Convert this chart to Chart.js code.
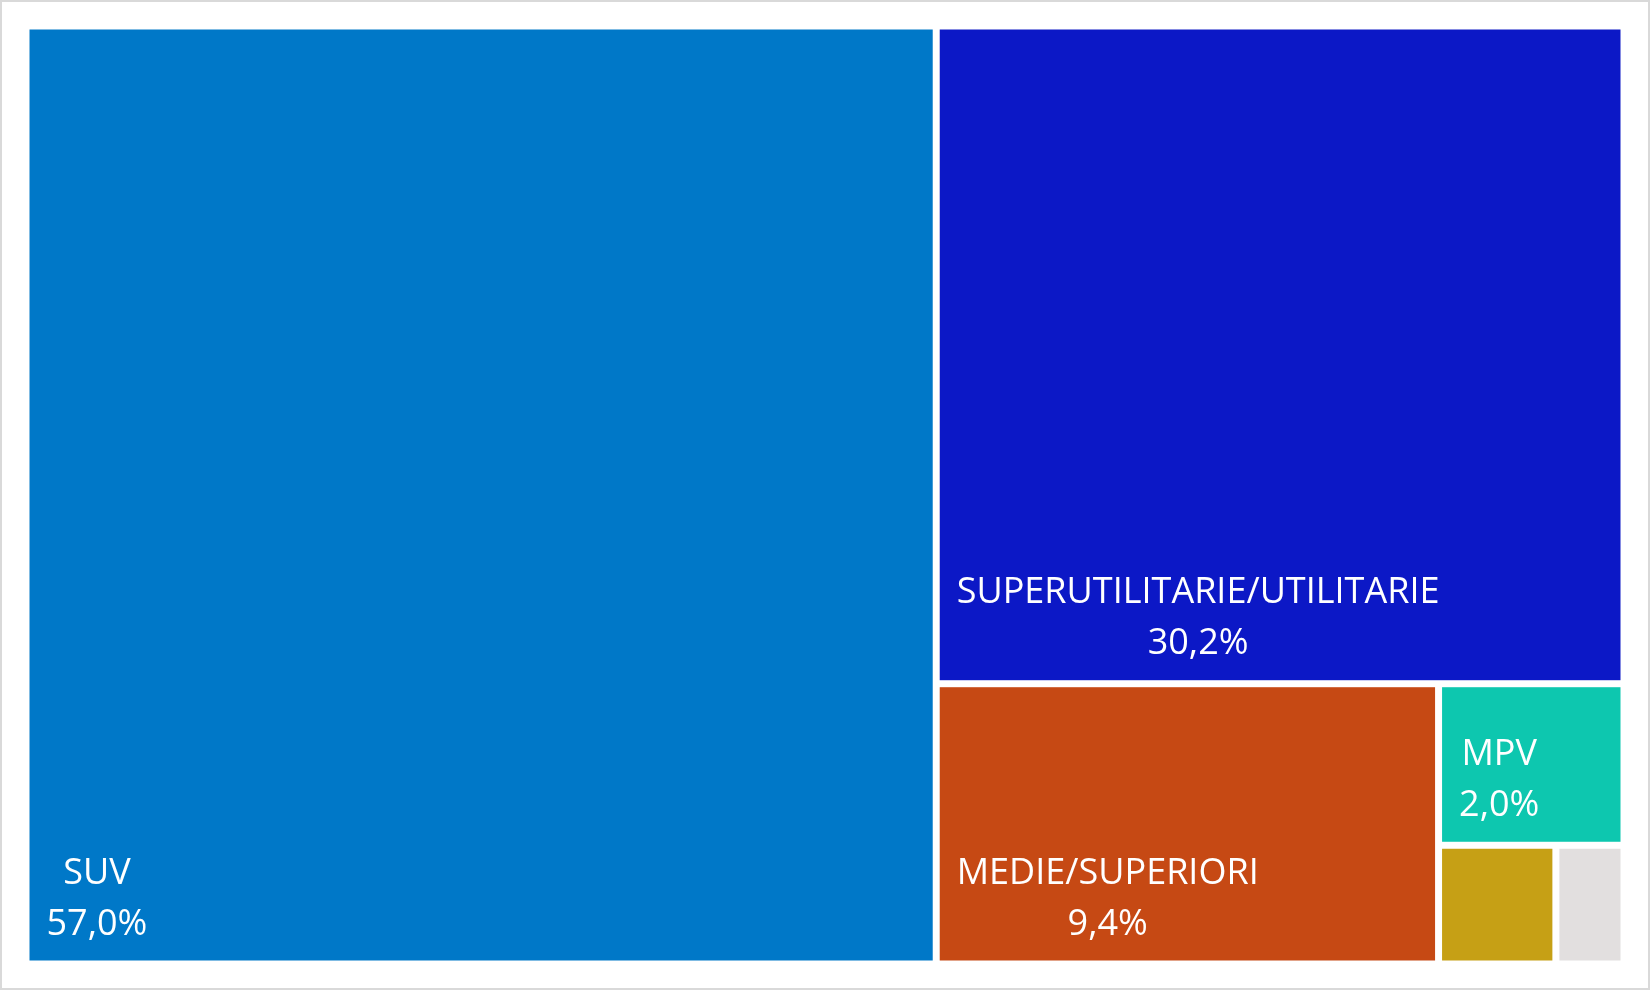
<!DOCTYPE html>
<html>
<head>
<meta charset="utf-8">
<script src="https://cdn.jsdelivr.net/npm/chart.js@4"></script>
<style>
    html, body { margin: 0; padding: 0; background: #ffffff; }
    #wrap {
        width: 1650px;
        height: 990px;
        box-sizing: border-box;
        border: 2px solid #d9d9d9;
        background: #ffffff;
    }
</style>
</head>
<body>
<div id="wrap"><canvas id="chart" width="1646" height="986"></canvas></div>
<script>
const categories = ['SUV', 'SUPERUTILITARIE/UTILITARIE', 'MEDIE/SUPERIORI', 'MPV', 'ALTELE', 'NECLASIFICATE'];
const shares = [57.0, 30.2, 9.4, 2.0, 0.93, 0.54];
const colors = ['#0078c8', '#0c18c6', '#c64914', '#0dc7af', '#c6a015', '#e2dfdf'];

function formatShare(v) {
    return v.toFixed(1).replace('.', ',') + '%';
}

/**
 * Squarified layout in data units (x 0..100, y 0..100).
 * aspect = pixel length of one x unit / pixel length of one y unit.
 */
function squarify(values, aspect) {
    let items = values.map((v, i) => ({ value: v, index: i }))
        .sort((a, b) => b.value - a.value);
    let rect = { x: 0, y: 0, w: 100, h: 100 };
    let out = [];

    while (items.length) {
        let total = items.reduce((s, it) => s + it.value, 0);
        let pw = rect.w * aspect;
        let area = pw * rect.h;
        let scale = area / total;
        let wide = pw >= rect.h;
        let side = wide ? rect.h : pw;

        let worst = row => {
            let s = row.reduce((a, it) => a + it.value * scale, 0);
            let w = 0;
            row.forEach(it => {
                let a = it.value * scale;
                w = Math.max(w, (side * side * a) / (s * s), (s * s) / (side * side * a));
            });
            return w;
        };

        let row = [items[0]];
        let k = 1;
        while (k < items.length && worst(row.concat(items[k])) <= worst(row)) {
            row.push(items[k]);
            k++;
        }
        items = items.slice(k);

        let rowArea = row.reduce((a, it) => a + it.value * scale, 0);
        let thick = rowArea / side;

        if (wide) {
            let dw = thick / aspect;
            let y = rect.y;
            row.forEach(it => {
                let h = it.value * scale / thick;
                out.push({ index: it.index, x0: rect.x, x1: rect.x + dw, y0: y, y1: y + h });
                y += h;
            });
            rect = { x: rect.x + dw, y: rect.y, w: rect.w - dw, h: rect.h };
        } else {
            let x = rect.x;
            row.forEach(it => {
                let w = (it.value * scale / thick) / aspect;
                out.push({ index: it.index, x0: x, x1: x + w, y0: rect.y, y1: rect.y + thick });
                x += w;
            });
            rect = { x: rect.x, y: rect.y + thick, w: rect.w, h: rect.h - thick };
        }
    }
    return out;
}

const treemapPlugin = {
    id: 'treemap',
    afterDatasetsDraw(chart) {
        let ctx = chart.ctx;
        let area = chart.chartArea;
        let xs = chart.scales.x;
        let ys = chart.scales.y;
        let aspect = (area.right - area.left) / (area.bottom - area.top);
        let gap = 3.5;
        let pad = 17;
        let font = '36px "Open Sans", "Noto Sans", sans-serif';

        let tiles = squarify(shares, aspect);

        ctx.save();
        tiles.forEach(t => {
            let left = xs.getPixelForValue(t.x0) + gap;
            let right = xs.getPixelForValue(t.x1) - gap;
            let top = ys.getPixelForValue(t.y0) + gap;
            let bottom = ys.getPixelForValue(t.y1) - gap;

            ctx.fillStyle = colors[t.index];
            ctx.fillRect(left, top, right - left, bottom - top);

            ctx.font = font;
            let name = categories[t.index];
            let value = formatShare(shares[t.index]);
            let w1 = ctx.measureText(name).width;
            let w2 = ctx.measureText(value).width;
            let blockW = Math.max(w1, w2);

            if (blockW + pad * 2 > right - left || bottom - top < 120)
                return;

            let cx = left + pad + blockW / 2;
            ctx.fillStyle = '#ffffff';
            ctx.textAlign = 'center';
            ctx.textBaseline = 'middle';
            ctx.fillText(name, cx, bottom - 36 - 51);
            ctx.fillText(value, cx, bottom - 36);
        });
        ctx.restore();
    }
};

new Chart(document.getElementById('chart'), {
    type: 'scatter',
    data: {
        datasets: [{
            data: [],
            pointRadius: 0
        }]
    },
    options: {
        responsive: false,
        animation: false,
        layout: {
            padding: { left: 24, right: 24, top: 24, bottom: 24 }
        },
        plugins: {
            legend: { display: false },
            tooltip: { enabled: false }
        },
        scales: {
            x: { type: 'linear', min: 0, max: 100, display: false },
            y: { type: 'linear', min: 0, max: 100, reverse: true, display: false }
        }
    },
    plugins: [treemapPlugin]
});
</script>
</body>
</html>
